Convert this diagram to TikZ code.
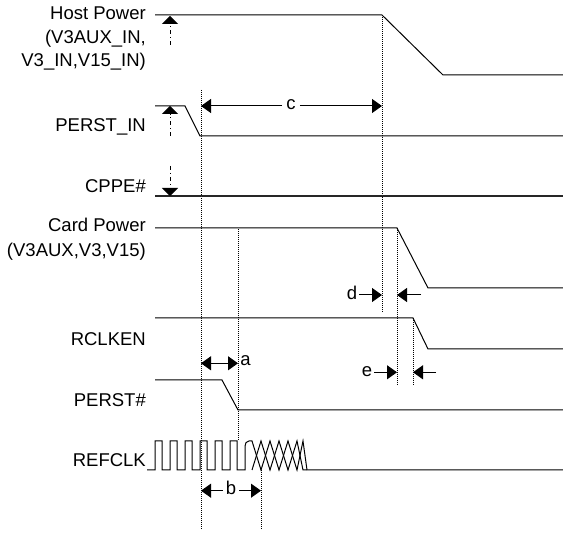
\documentclass[tikz,border=0pt]{standalone}
\usepackage{fontspec}
\setmainfont{Liberation Sans}
\usetikzlibrary{arrows.meta}
\begin{document}
\begin{tikzpicture}[x=1pt,y=-1pt,
  sig/.style={line width=1pt,line join=miter},
  guide/.style={line width=0.7pt,dash pattern=on 1pt off 1pt},
  dimarr/.style={line width=1pt,-{Triangle[length=10pt,width=14pt]}},
  dimboth/.style={line width=1pt,{Triangle[length=10pt,width=14pt]}-{Triangle[length=10pt,width=14pt]}},
  vmark/.style={line width=1pt,dash pattern=on 4pt off 3pt on 1pt off 3pt,-{Triangle[length=8pt,width=16pt]}},
  lab/.style={anchor=base east,inner sep=0pt,font=\fontsize{18.5}{22}\selectfont},
  dimlab/.style={anchor=base,inner sep=0pt,font=\fontsize{18.5}{22}\selectfont}
]
\useasboundingbox (0,0) rectangle (563,534);

% signal labels
\node[lab] (hp1) at (146,19.5) {Host Power};
\node[lab] (hp2) at (146,43.5) {(V3AUX\_IN,};
\node[lab] (hp3) at (146,67) {V3\_IN,V15\_IN)};
\node[lab] (pin) at (146,132) {PERST\_IN};
\node[lab] (cppe) at (146,193) {CPPE\#};
\node[lab] (cp1) at (146,232) {Card Power};
\node[lab] (cp2) at (146,257) {(V3AUX,V3,V15)};
\node[lab] (rclken) at (146,346) {RCLKEN};
\node[lab] (perst) at (146,407) {PERST\#};
\node[lab] (refclk) at (146,467) {REFCLK};

% guide lines
\draw[guide] (201,90) -- (201,530);
\draw[guide] (382,15) -- (382,312);
\draw[guide] (238,229) -- (238,441);
\draw[guide] (397,228) -- (397,386);
\draw[guide] (413,318) -- (413,386);
\draw[guide] (261,470) -- (261,530);

% signals
\draw[sig] (155,15) -- (382,15) -- (443,75) -- (563,75);
\draw[sig] (155,106) -- (185,106) -- (200,136) -- (563,136);
\draw[sig,line width=1.3pt,black!85] (155,196) -- (563,196);
\draw[sig] (155,228) -- (397,228) -- (428,288) -- (563,288);
\draw[sig] (155,318) -- (413,318) -- (428,349) -- (563,349);
\draw[sig] (155,380) -- (222,380) -- (238,410) -- (563,410);

% REFCLK
\draw[sig] (147,470) -- (155,470)
  -- (155,441) -- (162,441) -- (162,470) -- (170,470)
  -- (170,441) -- (177,441) -- (177,470) -- (185,470)
  -- (185,441) -- (192,441) -- (192,470) -- (200,470)
  -- (200,441) -- (207,441) -- (207,470) -- (215,470)
  -- (215,441) -- (222,441) -- (222,470) -- (230,470)
  -- (230,441) -- (237,441) -- (237,470) -- (245,470)
  -- (245,446) to[out=90,in=180] (249,441) -- (252,441)
  -- (261,470) -- (270,441) -- (279,470) -- (288,441) -- (297,470) -- (303,441) -- (307,470);
\draw[sig] (252,470) -- (261,441) -- (270,470) -- (279,441) -- (288,470) -- (297,441) -- (303,470) -- (563,470);

% vertical markers
\coordinate (hpA) at (170,45);  \coordinate (hpB) at (170,16);
\coordinate (piA) at (170,136); \coordinate (piB) at (170,106);
\coordinate (cpA) at (170,166); \coordinate (cpB) at (170,196);
\draw[vmark] (hpA) -- (hpB);
\draw[vmark] (piA) -- (piB);
\draw[vmark] (cpA) -- (cpB);

% c
\node[dimlab,inner xsep=4pt] (c) at (291,110) {c};
\coordinate (cL) at (201,106); \coordinate (cR) at (382,106);
\draw[dimarr] (c.west |- cL) -- (cL);
\draw[dimarr] (c.east |- cR) -- (cR);

% d
\node[dimlab] (d) at (352,300) {d};
\coordinate (dL) at (382,295); \coordinate (dR) at (397,295);
\coordinate (dE) at (421,295);
\draw[dimarr] ([xshift=2pt]d.east |- dL) -- (dL);
\draw[dimarr] (dE) -- (dR);

% e
\node[dimlab] (e) at (367,376.7) {e};
\coordinate (eL) at (397,372.3); \coordinate (eR) at (413,372.3);
\coordinate (eE) at (436,372.3);
\draw[dimarr] ([xshift=2pt]e.east |- eL) -- (eL);
\draw[dimarr] (eE) -- (eR);

% a
\coordinate (aL) at (201,363.3); \coordinate (aR) at (238,363.3);
\draw[dimboth] (aL) -- (aR);
\node[dimlab] (a) at (245.5,365.7) {a};

% b
\node[dimlab,inner xsep=3pt] (b) at (231,495) {b};
\coordinate (bL) at (201,490.7); \coordinate (bR) at (261,490.7);
\draw[dimarr] (b.west |- bL) -- (bL);
\draw[dimarr] (b.east |- bR) -- (bR);
\end{tikzpicture}
\end{document}
